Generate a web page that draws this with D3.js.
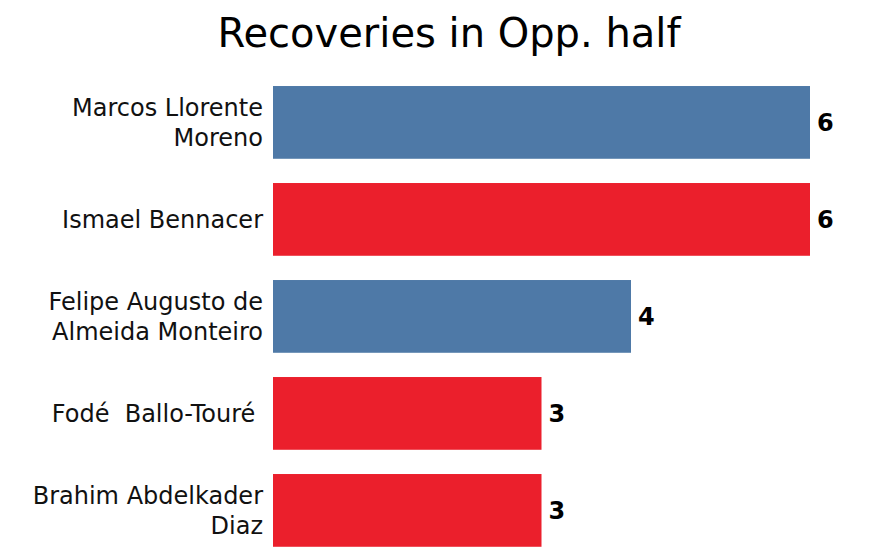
<!DOCTYPE html>
<html>
<head>
<meta charset="utf-8">
<script src="https://cdn.jsdelivr.net/npm/d3@7"></script>
<style>
  body { margin: 0; background: #fff; }
  svg { display: block; font-family: "DejaVu Sans", sans-serif; }
</style>
</head>
<body>
<svg id="chart"></svg>
<script>
// data
const players = [
  ["Marcos Llorente", "Moreno"],
  ["Ismael Bennacer"],
  ["Felipe Augusto de", "Almeida Monteiro"],
  ["Fodé  Ballo-Touré "],
  ["Brahim Abdelkader", "Diaz"]
];
const recoveries = [6, 6, 4, 3, 3];
const teams = ["Atlético Madrid", "AC Milan", "Atlético Madrid", "AC Milan", "AC Milan"];
const title = "Recoveries in Opp. half";

const width = 882;
const height = 549;

const svg = d3.select("#chart")
  .attr("width", width)
  .attr("height", height);

const rows = players.map((p, i) => ({ name: p, value: recoveries[i], team: teams[i], idx: i }));

const x = d3.scaleLinear()
  .domain([0, d3.max(recoveries)])
  .range([273, 810]);

const y = d3.scaleBand()
  .domain(d3.range(rows.length))
  .range([73.9, 558.9])
  .paddingInner(0.25)
  .paddingOuter(0.125);

const color = d3.scaleOrdinal()
  .domain(["Atlético Madrid", "AC Milan"])
  .range(["#4e79a7", "#eb1f2c"]);

svg.append("text")
  .attr("x", 449)
  .attr("y", 46.5)
  .attr("text-anchor", "middle")
  .attr("font-size", 40)
  .attr("fill", "#000")
  .text(title);

svg.selectAll(".bar")
  .data(rows)
  .enter()
  .append("rect")
  .attr("class", "bar")
  .attr("x", x(0))
  .attr("y", d => y(d.idx))
  .attr("width", d => x(d.value) - x(0))
  .attr("height", y.bandwidth())
  .attr("fill", d => color(d.team));

// value labels
svg.selectAll(".val")
  .data(rows)
  .enter()
  .append("text")
  .attr("class", "val")
  .attr("x", d => x(d.value) + 7)
  .attr("y", d => y(d.idx) + y.bandwidth() / 2)
  .attr("dy", "0.36em")
  .attr("font-size", 24)
  .attr("font-weight", "bold")
  .attr("fill", "#000")
  .text(d => d.value);

// player names, wrapped lines centred on the bar
const lineH = 30;
const labels = svg.selectAll(".name")
  .data(rows)
  .enter()
  .append("text")
  .attr("class", "name")
  .attr("xml:space", "preserve")
  .attr("text-anchor", "end")
  .attr("font-size", 24)
  .attr("fill", "#111");

// non-breaking spaces so doubled / trailing spaces keep their width
labels.selectAll("tspan")
  .data(d => d.name.map((line, j) => ({ line, j, n: d.name.length, idx: d.idx })))
  .enter()
  .append("tspan")
  .attr("x", 263)
  .attr("y", t => y(t.idx) + y.bandwidth() / 2 + (t.j - (t.n - 1) / 2) * lineH)
  .attr("dy", "0.36em")
  .text(t => t.line.replace(/ /g, "\u00a0"));
</script>
</body>
</html>
